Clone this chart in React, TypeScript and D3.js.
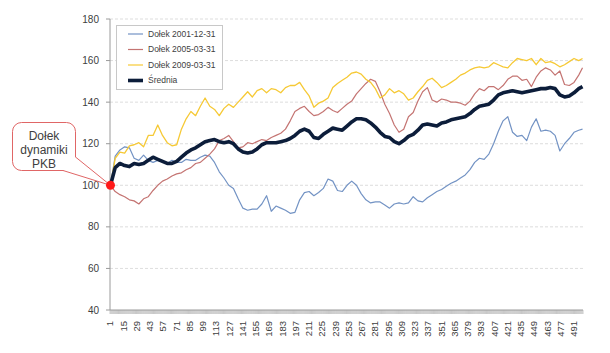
import React from 'react';
import * as d3 from 'd3';

// day index of each sample (every 5th session, plus the last one)
const days = [...d3.range(1, 500, 5), 500];

const dolek2001 = [100, 114, 117, 118.5, 118, 113, 112, 114.5, 112, 111,
  112, 111.5, 110.5, 112, 111, 111, 112.5, 112, 112, 113.5,
  114.5, 114, 111, 106.5, 103.5, 100, 98.5, 93.5, 89, 88,
  88.5, 88.5, 91, 95, 87.5, 90, 89, 88, 86.5, 87,
  93, 96.5, 97, 95, 96.5, 98.5, 103, 102, 97.5, 97,
  100, 102, 100, 96, 93, 91.5, 92, 92, 90.5, 89,
  91, 91.5, 91, 91.5, 94.5, 92.5, 92, 94, 95.5, 97,
  98, 99.5, 101, 102, 103.5, 105, 107.5, 111, 113, 112.5,
  115, 120, 126, 131, 133, 125.5, 123.5, 124, 121.5, 128,
  132, 126, 126.5, 126, 124, 116.5, 120, 122.5, 125.5, 126.5,
  127];

const dolek2005 = [100, 97, 95.5, 94.5, 93, 92.5, 91, 93.5, 94.5, 97.5,
  100, 102, 103, 104.5, 105.5, 106, 107.5, 108.5, 110.5, 111,
  113, 115, 117.5, 121.5, 122.5, 124, 121, 118, 118.5, 120.5,
  120, 121, 122, 121.5, 123, 124, 125, 127, 131, 135.5,
  137, 138, 135.5, 133.5, 134, 135.5, 137.5, 136, 135, 137,
  139, 140.5, 144, 146.5, 149, 151, 150, 145, 139, 134.5,
  129, 125.5, 127, 133, 135, 140.5, 145, 147, 141, 140,
  141.5, 141, 140, 140, 139.5, 138.5, 140.5, 144, 146.5, 145.5,
  147.5, 147.5, 146, 148, 151, 152.5, 152.5, 150.5, 151, 147.5,
  152, 155, 156.5, 155.5, 153, 155, 148.5, 148, 149.5, 153,
  156.5];

const dolek2009 = [100, 113, 116, 115.5, 119, 119.5, 120.5, 118.5, 124, 124,
  129, 124, 120.5, 119, 119.5, 127, 132, 135.5, 133.5, 138,
  142, 138, 136.5, 133.5, 137, 139, 137.5, 140, 142.5, 145,
  142.5, 145.5, 146.5, 144.5, 146.5, 146, 144.5, 147, 148, 148,
  149.5, 146, 143, 137.5, 139.5, 140.5, 142, 147, 149, 150.5,
  152, 154, 154.5, 153.5, 151, 149.5, 146.5, 142, 143.5, 146.5,
  144.5, 145.5, 144, 141, 142, 145, 147.5, 150.5, 151.5, 149.5,
  147, 148, 149.5, 151, 153, 154, 155.5, 156.5, 157, 156.5,
  157, 159, 158, 157, 156.5, 159, 161, 160.5, 160, 161,
  158, 161, 159, 159.5, 158.5, 157, 158, 159.5, 161, 160,
  161];

const srednia = [100, 108.5, 110.5, 109.5, 109, 110.5, 110, 110.5, 112, 113.5,
  112.5, 111.5, 110.5, 110.5, 111.5, 113.5, 115.5, 117, 118, 119.5,
  121, 121.5, 122, 121, 120.5, 121, 120, 117.5, 116, 115.5,
  116, 117.5, 119.5, 120.5, 120.5, 120.5, 121, 121.5, 122.5, 124,
  126, 127, 126, 123, 122.5, 124.5, 126, 127.5, 127, 126.5,
  128.5, 130.5, 132, 132, 131.5, 130, 128, 125.5, 123.5, 123,
  121, 120, 121.5, 123.5, 124.5, 126.5, 129, 129.5, 129, 128.5,
  130, 130.5, 131.5, 132, 132.5, 133, 134.5, 136.5, 138, 138.5,
  139, 141, 143.5, 144.5, 145, 145.5, 145, 144.5, 145, 145.5,
  146, 146.5, 146.5, 147, 146.5, 143.5, 142.5, 143, 144.5, 146.5,
  147.5];

const seriesNames = ['Dołek 2001-12-31', 'Dołek 2005-03-31', 'Dołek 2009-03-31', 'Średnia'];
const seriesValues = [dolek2001, dolek2005, dolek2009, srednia];
const seriesColors = ['#7393c4', '#c47472', '#f6c935', '#0c1d3a'];
const seriesWidths = [1.2, 1.2, 1.3, 3.6];

const yTicks = [40, 60, 80, 100, 120, 140, 160, 180];
const xTicks = d3.range(1, 500, 14);
const categoryCount = 500;
const calloutLines = ['Dołek', 'dynamiki', 'PKB'];

const W = 610;
const H = 353;
const margin = { left: 110, right: 27, top: 19, bottom: 43 };
const textColor = '#404040';
const font = '"Liberation Sans", Arial, sans-serif';

export default function App() {
  const x = d3.scaleLinear()
    .domain([0.5, categoryCount + 0.5])
    .range([margin.left, W - margin.right]);
  const y = d3.scaleLinear()
    .domain([40, 180])
    .range([H - margin.bottom, margin.top]);

  const line = d3.line<number>()
    .x((_, i) => x(days[i]))
    .y(d => y(d));

  const x0 = x.range()[0];
  const x1 = x.range()[1];
  const yBase = y(40);

  // category boundaries -> the dense tick band under the axis
  const catTicks = d3.range(0, categoryCount + 1).map(i => x(i + 0.5));

  const dot = { x: x(1), y: y(100) };

  return (
    <svg width={W} height={H} style={{ position: 'absolute', left: 0, top: 0, background: '#fff' }}
      fontFamily={font}>
      {/* gridlines */}
      {yTicks.filter(t => t > 40).map(t => (
        <line key={t} x1={x0} x2={x1} y1={y(t)} y2={y(t)}
          stroke="#d4d4d4" strokeWidth={0.8} strokeDasharray="3,2" />
      ))}

      {/* y axis */}
      <line x1={x0} x2={x0} y1={y(180)} y2={yBase} stroke="#9a9a9a" strokeWidth={1} />
      {yTicks.map(t => (
        <g key={t}>
          <line x1={x0 - 4} x2={x0} y1={y(t)} y2={y(t)} stroke="#9a9a9a" />
          <text x={x0 - 11} y={y(t)} dy="0.35em" textAnchor="end" fontSize={10} fill={textColor}>{t}</text>
        </g>
      ))}

      {/* x axis */}
      {catTicks.map((cx, i) => (
        <line key={i} x1={cx} x2={cx} y1={yBase} y2={yBase + 4} stroke="#a8a8a8" strokeWidth={0.6} />
      ))}
      <line x1={x0} x2={x1} y1={yBase} y2={yBase} stroke="#9a9a9a" strokeWidth={1} />
      {xTicks.map(t => (
        <text key={t} transform={`translate(${x(t) + 3},${yBase + 11}) rotate(-90)`}
          textAnchor="end" fontSize={9.5} fill={textColor}>{t}</text>
      ))}

      {/* series */}
      {seriesValues.map((vals, s) => (
        <path key={s} d={line(vals) ?? ''} fill="none" stroke={seriesColors[s]}
          strokeWidth={seriesWidths[s]} strokeLinejoin="round" />
      ))}

      {/* legend */}
      <rect x={116.5} y={25.5} width={106} height={64} fill="#fff" stroke="#c8c8c8" strokeWidth={1} />
      {seriesNames.map((name, i) => {
        const ly = 34 + i * 15.5;
        return (
          <g key={name}>
            <line x1={128} x2={143} y1={ly} y2={ly} stroke={seriesColors[i]}
              strokeWidth={i === 3 ? 3.6 : 1.2} />
            <text x={148} y={ly} dy="0.35em" fontSize={8.5} fill={textColor}>{name}</text>
          </g>
        );
      })}

      {/* callout */}
      <rect x={12.5} y={122.5} width={63} height={48} rx={9} fill="#fff" stroke="#e06666" strokeWidth={1} />
      <polygon points={`63,170.5 75.5,157 ${dot.x},${dot.y}`} fill="#fff" />
      <polyline points={`63,170.5 ${dot.x},${dot.y} 75.5,157`} fill="none" stroke="#e06666" strokeWidth={1} />
      {calloutLines.map((t, i) => (
        <text key={t} x={44} y={136 + i * 14} dy="0.35em" textAnchor="middle" fontSize={12}
          fill={textColor}>{t}</text>
      ))}
      <circle cx={dot.x} cy={dot.y} r={4.5} fill="#ff1a1a" />
    </svg>
  );
}
